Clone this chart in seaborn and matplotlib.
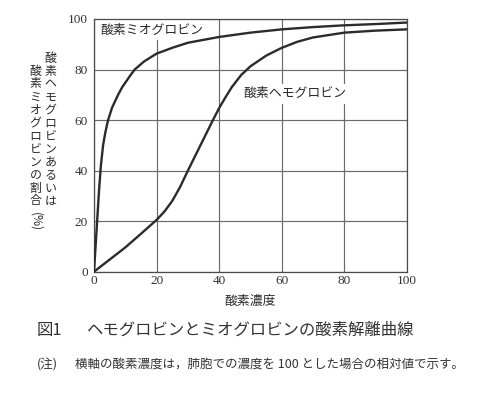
import matplotlib
matplotlib.use("Agg")
import matplotlib.pyplot as plt
import seaborn as sns
import pandas as pd

# ---- data ----
myo_x = [0, 0.5, 1.0, 1.6, 2.2, 2.9, 3.6, 4.5, 5.8, 7.7, 9, 10, 11.5, 13, 16, 20, 25, 30, 40, 50, 60, 70, 80, 90, 100]
myo_y = [0, 10, 20, 32, 42, 50, 55, 60, 65, 70, 73, 74.8, 77.5, 80, 83.2, 86.3, 88.6, 90.6, 92.9, 94.6, 95.9, 96.8, 97.5, 98.0, 98.6]
hb_x = [0, 5, 10, 15, 20, 22.5, 25, 27.5, 30, 34, 38, 40, 42, 44, 47, 50, 55, 60, 65, 70, 80, 90, 100]
hb_y = [0, 4.8, 9.6, 15.0, 20.5, 23.8, 28, 33.5, 40, 50, 60, 64.8, 69, 73, 77.8, 81.3, 85.5, 88.6, 91, 92.7, 94.6, 95.4, 95.9]

x_ticks = [0, 20, 40, 60, 80, 100]
y_ticks = [0, 20, 40, 60, 80, 100]

label_myo = "酸素ミオグロビン"
label_hb = "酸素ヘモグロビン"
ylabel_col1 = "酸素ヘモグロビンあるいは"
ylabel_col2 = "酸素ミオグロビンの割合"
ylabel_unit = "(%)"
xlabel = "酸素濃度"
caption_no = "図1"
caption = "ヘモグロビンとミオグロビンの酸素解離曲線"
note_head = "(注)"
note = "横軸の酸素濃度は，肺胞での濃度を 100 とした場合の相対値で示す。"

sns.set_theme(style="white")
plt.rcParams["font.family"] = ["Noto Sans CJK JP", "DejaVu Sans"]

JP = ["Noto Sans CJK JP", "DejaVu Sans"]
SERIF = ["Liberation Serif", "DejaVu Serif"]
INK = "#2b2b2b"

W, H = 500, 393
fig = plt.figure(figsize=(W / 100, H / 100), dpi=100)
fig.patch.set_facecolor("white")

def fx(px):
    return px / W

def fy(py):
    return 1 - py / H

ax = fig.add_axes([fx(94), fy(271.7), fx(407) - fx(94), fy(19) - fy(271.7)])

df = pd.concat([
    pd.DataFrame({"x": myo_x, "y": myo_y, "s": label_myo}),
    pd.DataFrame({"x": hb_x, "y": hb_y, "s": label_hb}),
])
sns.lineplot(data=df, x="x", y="y", hue="s", palette=[INK, INK], sort=False,
             estimator=None, legend=False, linewidth=1.7, ax=ax, zorder=3)
for ln in ax.get_lines():
    ln.set_solid_joinstyle("round")
    ln.set_solid_capstyle("round")

ax.set_xlim(0, 100)
ax.set_ylim(0, 100)
ax.set_xticks(x_ticks)
ax.set_yticks(y_ticks)
ax.set_xticklabels([str(v) for v in x_ticks], family=SERIF, fontsize=9.5, color="#333333")
ax.set_yticklabels([str(v) for v in y_ticks], family=SERIF, fontsize=9.5, color="#333333")
ax.tick_params(axis="both", length=0)
ax.tick_params(axis="x", pad=2.5)
ax.tick_params(axis="y", pad=4.5)
ax.set_xlabel("")
ax.set_ylabel("")
ax.grid(True, color="#6a6a6a", linewidth=0.85, zorder=0)
ax.set_axisbelow(True)
for sp in ax.spines.values():
    sp.set_color("#4a4a4a")
    sp.set_linewidth(0.9)

ax.text(1.9, 95.6, label_myo, family=JP, fontsize=9.3, color=INK, ha="left", va="center",
        zorder=2.5, bbox=dict(facecolor="white", edgecolor="none", pad=2.5))
ax.text(47.6, 70.5, label_hb, family=JP, fontsize=9.3, color=INK, ha="left", va="center",
        zorder=2.5, bbox=dict(facecolor="white", edgecolor="none", pad=2.5))

# vertical (stacked) y label, two columns
step = 13.0
for i, ch in enumerate(ylabel_col1):
    fig.text(fx(50.5), fy(58 + i * step), ch, family=JP, fontsize=8.6, color=INK,
             ha="center", va="center")
for i, ch in enumerate(ylabel_col2):
    fig.text(fx(35.5), fy(71 + i * step), ch, family=JP, fontsize=8.6, color=INK,
             ha="center", va="center")
fig.text(fx(35.5), fy(222), ylabel_unit, family=JP, fontsize=8.6, color=INK,
         ha="center", va="center", rotation=-90)

fig.text(fx(250), fy(301), xlabel, family=JP, fontsize=9.3, color=INK, ha="center", va="center")

fig.text(fx(37), fy(330), caption_no, family=JP, fontsize=11.8, color="#333333", ha="left", va="center")
fig.text(fx(87), fy(330), caption, family=JP, fontsize=11.8, color="#333333", ha="left", va="center")
fig.text(fx(37), fy(365), note_head, family=JP, fontsize=9.0, color="#333333", ha="left", va="center")
fig.text(fx(75), fy(365), note, family=JP, fontsize=9.0, color="#333333", ha="left", va="center")

fig.savefig("out.png", dpi=100, facecolor="white")
